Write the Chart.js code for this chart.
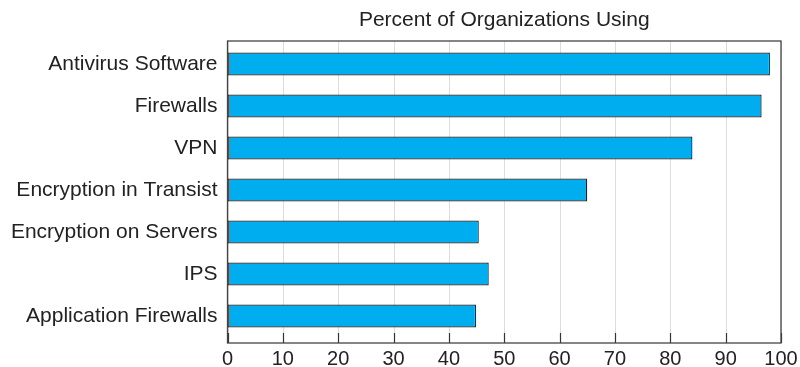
<!DOCTYPE html>
<html>
<head>
<meta charset="utf-8">
<script src="https://cdn.jsdelivr.net/npm/chart.js@4/dist/chart.umd.min.js"></script>
<style>
html,body{margin:0;padding:0;background:#fff;}
#wrap{width:800px;height:367px;position:relative;}
</style>
</head>
<body>
<div id="wrap"><canvas id="c" width="800" height="367"></canvas></div>
<script>
const categories = ["Antivirus Software","Firewalls","VPN","Encryption in Transist","Encryption on Servers","IPS","Application Firewalls"];
const values = [98, 96.5, 84, 65, 45.4, 47.2, 44.9];
const xTicks = [0,10,20,30,40,50,60,70,80,90,100];
const chartTitle = "Percent of Organizations Using";

const FONT = "'Liberation Sans', Arial, Helvetica, sans-serif";
const FRAME_TOP = 41, FRAME_BOTTOM = 343;

const framePlugin = {
  id: 'frame',
  beforeDatasetsDraw(chart) {
    const {ctx, chartArea: a, scales} = chart;
    const x = scales.x;
    ctx.save();
    ctx.strokeStyle = '#dcdcdc';
    ctx.lineWidth = 1;
    xTicks.forEach(v => {
      const px = Math.round(x.getPixelForValue(v)) + 0.5;
      ctx.beginPath();
      ctx.moveTo(px, FRAME_TOP);
      ctx.lineTo(px, FRAME_BOTTOM);
      ctx.stroke();
    });
    ctx.restore();
  },
  afterDatasetsDraw(chart) {
    const {ctx, chartArea: a, scales} = chart;
    const x = scales.x;
    ctx.save();
    ctx.strokeStyle = '#333';
    ctx.lineWidth = 1.2;
    xTicks.forEach(v => {
      const px = Math.round(x.getPixelForValue(v)) + 0.5;
      ctx.beginPath();
      ctx.moveTo(px, FRAME_BOTTOM);
      ctx.lineTo(px, FRAME_BOTTOM - 10);
      ctx.stroke();
    });
    ctx.strokeStyle = '#444';
    ctx.lineWidth = 1.3;
    ctx.strokeRect(a.left, FRAME_TOP, a.right - a.left, FRAME_BOTTOM - FRAME_TOP);
    ctx.fillStyle = '#222';
    ctx.font = "21px " + FONT;
    ctx.textAlign = 'center';
    ctx.textBaseline = 'middle';
    ctx.fillText(chartTitle, (a.left + a.right) / 2, 20);
    ctx.restore();
  }
};

new Chart(document.getElementById('c'), {
  type: 'bar',
  data: {
    labels: categories,
    datasets: [{
      data: values,
      backgroundColor: '#00aeef',
      borderColor: '#222',
      borderWidth: 1.3,
      borderSkipped: false,
      categoryPercentage: 1,
      barPercentage: 0.55
    }]
  },
  options: {
    indexAxis: 'y',
    responsive: false,
    animation: false,
    devicePixelRatio: 1,
    layout: { padding: { top: 43, right: 19, left: 0, bottom: 0 } },
    plugins: { legend: { display: false }, title: { display: false }, tooltip: { enabled: false } },
    scales: {
      x: {
        min: 0, max: 100,
        afterFit(s) { s.height = 30; },
        afterBuildTicks(s) { s.ticks = xTicks.map(v => ({value: v})); },
        grid: { display: false, drawTicks: false },
        border: { display: false },
        ticks: { color: '#222', font: { family: FONT, size: 20, lineHeight: 2 }, padding: 2, maxRotation: 0 }
      },
      y: {
        afterFit(s) { s.width = 227.5; },
        grid: { display: false, drawTicks: false },
        border: { display: false },
        ticks: { color: '#222', font: { family: FONT, size: 21 }, padding: 10 }
      }
    }
  },
  plugins: [framePlugin]
});
</script>
</body>
</html>
